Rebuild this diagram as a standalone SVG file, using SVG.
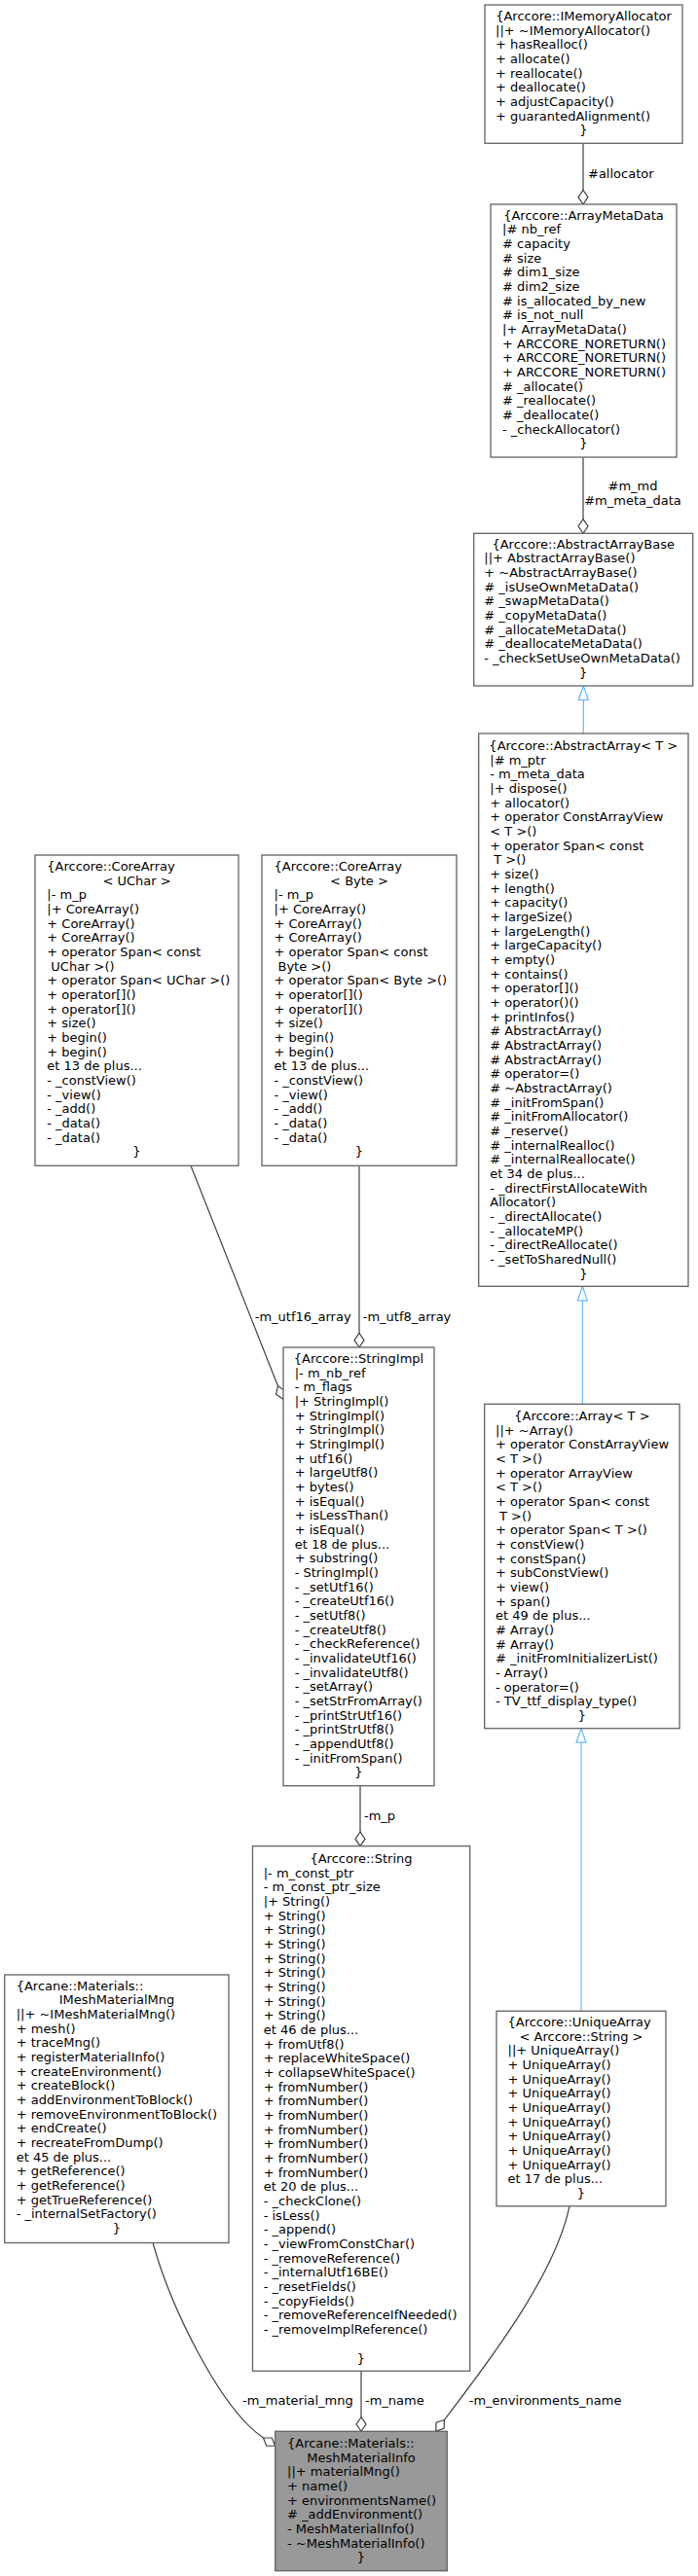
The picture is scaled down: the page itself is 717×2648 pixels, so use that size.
<svg xmlns="http://www.w3.org/2000/svg" width="717" height="2648" viewBox="0 0 717 2648">
<style>
text{font-family:"DejaVu Sans","Liberation Sans",sans-serif;font-size:13px;fill:#000}
.m{text-anchor:middle}
.b{fill:#fff;stroke:#666;stroke-width:1.33}
.r{fill:#999;stroke:#666;stroke-width:1.33}
.e{fill:none;stroke:#404040;stroke-width:1.2}
.i{fill:none;stroke:#63b8ff;stroke-width:1.2}
</style>
<defs>
<marker id="d" markerUnits="userSpaceOnUse" orient="auto" refX="0" refY="0" markerWidth="16" markerHeight="12" style="overflow:visible"><path d="M0,0 L7.3,-5 L14.6,0 L7.3,5 Z" fill="none" stroke="#404040" stroke-width="1.2"/></marker>
<marker id="t" markerUnits="userSpaceOnUse" orient="auto" refX="0" refY="0" markerWidth="16" markerHeight="12" style="overflow:visible"><path d="M0,-5 L14.5,0 L0,5 Z" fill="none" stroke="#63b8ff" stroke-width="1.2"/></marker>
</defs>
<rect width="717" height="2648" fill="#fff"/>
<g id="edges">
<path class="e" d="M599,147.3 V195.4" marker-end="url(#d)"/>
<path class="e" d="M599,470 V533.7" marker-end="url(#d)"/>
<path class="i" d="M599.3,754 V719.5" marker-end="url(#t)"/>
<path class="i" d="M598.3,1443.3 V1336.8" marker-end="url(#t)"/>
<path class="i" d="M597,2067.3 V1791.2" marker-end="url(#t)"/>
<path class="e" d="M196,1198.3 L285.5,1424.7" marker-end="url(#d)"/>
<path class="e" d="M369,1198.3 V1370.4" marker-end="url(#d)"/>
<path class="e" d="M370,1835.7 V1883.1" marker-end="url(#d)"/>
<path class="e" d="M371,2437.3 V2484.7" marker-end="url(#d)"/>
<path class="e" d="M157,2305.5 C175,2370 225,2475 270.5,2506" marker-end="url(#d)"/>
<path class="e" d="M585,2267.8 C570,2340 500,2430 456.5,2487.5" marker-end="url(#d)"/>
<text x="604" y="182.6">#allocator</text>
<text class="m" x="650" y="504.3">#m_md</text>
<text class="m" x="650" y="519.3">#m_meta_data</text>
<text x="261.7" y="1357.6">-m_utf16_array</text>
<text x="372.7" y="1357.6">-m_utf8_array</text>
<text x="374" y="1871">-m_p</text>
<text x="249" y="2471.6">-m_material_mng</text>
<text x="375" y="2471.6">-m_name</text>
<text x="481.7" y="2471.6">-m_environments_name</text>
</g>
<g id="IMemoryAllocator">
<rect class="b" x="498" y="5" width="203" height="142.3"/>
<text class="m" x="599.5" y="21">{Arccore::IMemoryAllocator</text>
<text x="509" y="35.67"><tspan x="509" dy="0">||+ ~IMemoryAllocator()</tspan><tspan x="509" dy="14.67">+ hasRealloc()</tspan><tspan x="509" dy="14.67">+ allocate()</tspan><tspan x="509" dy="14.67">+ reallocate()</tspan><tspan x="509" dy="14.67">+ deallocate()</tspan><tspan x="509" dy="14.67">+ adjustCapacity()</tspan><tspan x="509" dy="14.67">+ guarantedAlignment()</tspan></text>
<text class="m" x="599.5" y="138.4">}</text>
</g>
<g id="ArrayMetaData">
<rect class="b" x="504" y="210" width="191" height="260"/>
<text class="m" x="599.5" y="225.6">{Arccore::ArrayMetaData</text>
<text x="516" y="240.27"><tspan x="516" dy="0">|# nb_ref</tspan><tspan x="516" dy="14.67"># capacity</tspan><tspan x="516" dy="14.67"># size</tspan><tspan x="516" dy="14.67"># dim1_size</tspan><tspan x="516" dy="14.67"># dim2_size</tspan><tspan x="516" dy="14.67"># is_allocated_by_new</tspan><tspan x="516" dy="14.67"># is_not_null</tspan><tspan x="516" dy="14.67">|+ ArrayMetaData()</tspan><tspan x="516" dy="14.67">+ ARCCORE_NORETURN()</tspan><tspan x="516" dy="14.67">+ ARCCORE_NORETURN()</tspan><tspan x="516" dy="14.67">+ ARCCORE_NORETURN()</tspan><tspan x="516" dy="14.67"># _allocate()</tspan><tspan x="516" dy="14.67"># _reallocate()</tspan><tspan x="516" dy="14.67"># _deallocate()</tspan><tspan x="516" dy="14.67">- _checkAllocator()</tspan></text>
<text class="m" x="599.5" y="460.3">}</text>
</g>
<g id="AbstractArrayBase">
<rect class="b" x="486.7" y="548.3" width="225" height="156.7"/>
<text class="m" x="599.2" y="563.6">{Arccore::AbstractArrayBase</text>
<text x="497.3" y="578.27"><tspan x="497.3" dy="0">||+ AbstractArrayBase()</tspan><tspan x="497.3" dy="14.67">+ ~AbstractArrayBase()</tspan><tspan x="497.3" dy="14.67"># _isUseOwnMetaData()</tspan><tspan x="497.3" dy="14.67"># _swapMetaData()</tspan><tspan x="497.3" dy="14.67"># _copyMetaData()</tspan><tspan x="497.3" dy="14.67"># _allocateMetaData()</tspan><tspan x="497.3" dy="14.67"># _deallocateMetaData()</tspan><tspan x="497.3" dy="14.67">- _checkSetUseOwnMetaData()</tspan></text>
<text class="m" x="599.2" y="695.6">}</text>
</g>
<g id="AbstractArray">
<rect class="b" x="491.7" y="754" width="215.3" height="568.3"/>
<text class="m" x="599.3" y="771">{Arccore::AbstractArray&lt; T &gt;</text>
<text x="503.3" y="785.67"><tspan x="503.3" dy="0">|# m_ptr</tspan><tspan x="503.3" dy="14.67">- m_meta_data</tspan><tspan x="503.3" dy="14.67">|+ dispose()</tspan><tspan x="503.3" dy="14.67">+ allocator()</tspan><tspan x="503.3" dy="14.67">+ operator ConstArrayView</tspan><tspan x="503.3" dy="14.67">&lt; T &gt;()</tspan><tspan x="503.3" dy="14.67">+ operator Span&lt; const</tspan><tspan x="507.3" dy="14.67">T &gt;()</tspan><tspan x="503.3" dy="14.67">+ size()</tspan><tspan x="503.3" dy="14.67">+ length()</tspan><tspan x="503.3" dy="14.67">+ capacity()</tspan><tspan x="503.3" dy="14.67">+ largeSize()</tspan><tspan x="503.3" dy="14.67">+ largeLength()</tspan><tspan x="503.3" dy="14.67">+ largeCapacity()</tspan><tspan x="503.3" dy="14.67">+ empty()</tspan><tspan x="503.3" dy="14.67">+ contains()</tspan><tspan x="503.3" dy="14.67">+ operator[]()</tspan><tspan x="503.3" dy="14.67">+ operator()()</tspan><tspan x="503.3" dy="14.67">+ printInfos()</tspan><tspan x="503.3" dy="14.67"># AbstractArray()</tspan><tspan x="503.3" dy="14.67"># AbstractArray()</tspan><tspan x="503.3" dy="14.67"># AbstractArray()</tspan><tspan x="503.3" dy="14.67"># operator=()</tspan><tspan x="503.3" dy="14.67"># ~AbstractArray()</tspan><tspan x="503.3" dy="14.67"># _initFromSpan()</tspan><tspan x="503.3" dy="14.67"># _initFromAllocator()</tspan><tspan x="503.3" dy="14.67"># _reserve()</tspan><tspan x="503.3" dy="14.67"># _internalRealloc()</tspan><tspan x="503.3" dy="14.67"># _internalReallocate()</tspan><tspan x="503.3" dy="14.67">et 34 de plus...</tspan><tspan x="503.3" dy="14.67">- _directFirstAllocateWith</tspan><tspan x="503.3" dy="14.67">Allocator()</tspan><tspan x="503.3" dy="14.67">- _directAllocate()</tspan><tspan x="503.3" dy="14.67">- _allocateMP()</tspan><tspan x="503.3" dy="14.67">- _directReAllocate()</tspan><tspan x="503.3" dy="14.67">- _setToSharedNull()</tspan></text>
<text class="m" x="599.3" y="1313.8">}</text>
</g>
<g id="CoreArrayUChar">
<rect class="b" x="36" y="879" width="209" height="319.3"/>
<text x="48.3" y="895">{Arccore::CoreArray</text>
<text class="m" x="140.5" y="909.67">&lt; UChar &gt;</text>
<text x="48.3" y="924.33"><tspan x="48.3" dy="0">|- m_p</tspan><tspan x="48.3" dy="14.67">|+ CoreArray()</tspan><tspan x="48.3" dy="14.67">+ CoreArray()</tspan><tspan x="48.3" dy="14.67">+ CoreArray()</tspan><tspan x="48.3" dy="14.67">+ operator Span&lt; const</tspan><tspan x="52.3" dy="14.67">UChar &gt;()</tspan><tspan x="48.3" dy="14.67">+ operator Span&lt; UChar &gt;()</tspan><tspan x="48.3" dy="14.67">+ operator[]()</tspan><tspan x="48.3" dy="14.67">+ operator[]()</tspan><tspan x="48.3" dy="14.67">+ size()</tspan><tspan x="48.3" dy="14.67">+ begin()</tspan><tspan x="48.3" dy="14.67">+ begin()</tspan><tspan x="48.3" dy="14.67">et 13 de plus...</tspan><tspan x="48.3" dy="14.67">- _constView()</tspan><tspan x="48.3" dy="14.67">- _view()</tspan><tspan x="48.3" dy="14.67">- _add()</tspan><tspan x="48.3" dy="14.67">- _data()</tspan><tspan x="48.3" dy="14.67">- _data()</tspan></text>
<text class="m" x="140.5" y="1188.4">}</text>
</g>
<g id="CoreArrayByte">
<rect class="b" x="269" y="879" width="200" height="319.3"/>
<text x="281.5" y="895">{Arccore::CoreArray</text>
<text class="m" x="369" y="909.67">&lt; Byte &gt;</text>
<text x="281.5" y="924.33"><tspan x="281.5" dy="0">|- m_p</tspan><tspan x="281.5" dy="14.67">|+ CoreArray()</tspan><tspan x="281.5" dy="14.67">+ CoreArray()</tspan><tspan x="281.5" dy="14.67">+ CoreArray()</tspan><tspan x="281.5" dy="14.67">+ operator Span&lt; const</tspan><tspan x="285.5" dy="14.67">Byte &gt;()</tspan><tspan x="281.5" dy="14.67">+ operator Span&lt; Byte &gt;()</tspan><tspan x="281.5" dy="14.67">+ operator[]()</tspan><tspan x="281.5" dy="14.67">+ operator[]()</tspan><tspan x="281.5" dy="14.67">+ size()</tspan><tspan x="281.5" dy="14.67">+ begin()</tspan><tspan x="281.5" dy="14.67">+ begin()</tspan><tspan x="281.5" dy="14.67">et 13 de plus...</tspan><tspan x="281.5" dy="14.67">- _constView()</tspan><tspan x="281.5" dy="14.67">- _view()</tspan><tspan x="281.5" dy="14.67">- _add()</tspan><tspan x="281.5" dy="14.67">- _data()</tspan><tspan x="281.5" dy="14.67">- _data()</tspan></text>
<text class="m" x="369" y="1188.4">}</text>
</g>
<g id="StringImpl">
<rect class="b" x="291" y="1385" width="155" height="450.7"/>
<text class="m" x="368.5" y="1401">{Arccore::StringImpl</text>
<text x="302.7" y="1415.67"><tspan x="302.7" dy="0">|- m_nb_ref</tspan><tspan x="302.7" dy="14.67">- m_flags</tspan><tspan x="302.7" dy="14.67">|+ StringImpl()</tspan><tspan x="302.7" dy="14.67">+ StringImpl()</tspan><tspan x="302.7" dy="14.67">+ StringImpl()</tspan><tspan x="302.7" dy="14.67">+ StringImpl()</tspan><tspan x="302.7" dy="14.67">+ utf16()</tspan><tspan x="302.7" dy="14.67">+ largeUtf8()</tspan><tspan x="302.7" dy="14.67">+ bytes()</tspan><tspan x="302.7" dy="14.67">+ isEqual()</tspan><tspan x="302.7" dy="14.67">+ isLessThan()</tspan><tspan x="302.7" dy="14.67">+ isEqual()</tspan><tspan x="302.7" dy="14.67">et 18 de plus...</tspan><tspan x="302.7" dy="14.67">+ substring()</tspan><tspan x="302.7" dy="14.67">- StringImpl()</tspan><tspan x="302.7" dy="14.67">- _setUtf16()</tspan><tspan x="302.7" dy="14.67">- _createUtf16()</tspan><tspan x="302.7" dy="14.67">- _setUtf8()</tspan><tspan x="302.7" dy="14.67">- _createUtf8()</tspan><tspan x="302.7" dy="14.67">- _checkReference()</tspan><tspan x="302.7" dy="14.67">- _invalidateUtf16()</tspan><tspan x="302.7" dy="14.67">- _invalidateUtf8()</tspan><tspan x="302.7" dy="14.67">- _setArray()</tspan><tspan x="302.7" dy="14.67">- _setStrFromArray()</tspan><tspan x="302.7" dy="14.67">- _printStrUtf16()</tspan><tspan x="302.7" dy="14.67">- _printStrUtf8()</tspan><tspan x="302.7" dy="14.67">- _appendUtf8()</tspan><tspan x="302.7" dy="14.67">- _initFromSpan()</tspan></text>
<text class="m" x="368.5" y="1826.4">}</text>
</g>
<g id="Array">
<rect class="b" x="497.7" y="1443.3" width="200.3" height="333.4"/>
<text class="m" x="597.9" y="1460">{Arccore::Array&lt; T &gt;</text>
<text x="509" y="1474.67"><tspan x="509" dy="0">||+ ~Array()</tspan><tspan x="509" dy="14.67">+ operator ConstArrayView</tspan><tspan x="509" dy="14.67">&lt; T &gt;()</tspan><tspan x="509" dy="14.67">+ operator ArrayView</tspan><tspan x="509" dy="14.67">&lt; T &gt;()</tspan><tspan x="509" dy="14.67">+ operator Span&lt; const</tspan><tspan x="513" dy="14.67">T &gt;()</tspan><tspan x="509" dy="14.67">+ operator Span&lt; T &gt;()</tspan><tspan x="509" dy="14.67">+ constView()</tspan><tspan x="509" dy="14.67">+ constSpan()</tspan><tspan x="509" dy="14.67">+ subConstView()</tspan><tspan x="509" dy="14.67">+ view()</tspan><tspan x="509" dy="14.67">+ span()</tspan><tspan x="509" dy="14.67">et 49 de plus...</tspan><tspan x="509" dy="14.67"># Array()</tspan><tspan x="509" dy="14.67"># Array()</tspan><tspan x="509" dy="14.67"># _initFromInitializerList()</tspan><tspan x="509" dy="14.67">- Array()</tspan><tspan x="509" dy="14.67">- operator=()</tspan><tspan x="509" dy="14.67">- TV_ttf_display_type()</tspan></text>
<text class="m" x="597.9" y="1768.1">}</text>
</g>
<g id="String">
<rect class="b" x="259.5" y="1897.7" width="223.2" height="539.6"/>
<text class="m" x="371" y="1915">{Arccore::String</text>
<text x="270.7" y="1929.67"><tspan x="270.7" dy="0">|- m_const_ptr</tspan><tspan x="270.7" dy="14.67">- m_const_ptr_size</tspan><tspan x="270.7" dy="14.67">|+ String()</tspan><tspan x="270.7" dy="14.67">+ String()</tspan><tspan x="270.7" dy="14.67">+ String()</tspan><tspan x="270.7" dy="14.67">+ String()</tspan><tspan x="270.7" dy="14.67">+ String()</tspan><tspan x="270.7" dy="14.67">+ String()</tspan><tspan x="270.7" dy="14.67">+ String()</tspan><tspan x="270.7" dy="14.67">+ String()</tspan><tspan x="270.7" dy="14.67">+ String()</tspan><tspan x="270.7" dy="14.67">et 46 de plus...</tspan><tspan x="270.7" dy="14.67">+ fromUtf8()</tspan><tspan x="270.7" dy="14.67">+ replaceWhiteSpace()</tspan><tspan x="270.7" dy="14.67">+ collapseWhiteSpace()</tspan><tspan x="270.7" dy="14.67">+ fromNumber()</tspan><tspan x="270.7" dy="14.67">+ fromNumber()</tspan><tspan x="270.7" dy="14.67">+ fromNumber()</tspan><tspan x="270.7" dy="14.67">+ fromNumber()</tspan><tspan x="270.7" dy="14.67">+ fromNumber()</tspan><tspan x="270.7" dy="14.67">+ fromNumber()</tspan><tspan x="270.7" dy="14.67">+ fromNumber()</tspan><tspan x="270.7" dy="14.67">et 20 de plus...</tspan><tspan x="270.7" dy="14.67">- _checkClone()</tspan><tspan x="270.7" dy="14.67">- isLess()</tspan><tspan x="270.7" dy="14.67">- _append()</tspan><tspan x="270.7" dy="14.67">- _viewFromConstChar()</tspan><tspan x="270.7" dy="14.67">- _removeReference()</tspan><tspan x="270.7" dy="14.67">- _internalUtf16BE()</tspan><tspan x="270.7" dy="14.67">- _resetFields()</tspan><tspan x="270.7" dy="14.67">- _copyFields()</tspan><tspan x="270.7" dy="14.67">- _removeReferenceIfNeeded()</tspan><tspan x="270.7" dy="14.67">- _removeImplReference()</tspan></text>
<text class="m" x="371" y="2428.5">}</text>
</g>
<g id="IMeshMaterialMng">
<rect class="b" x="4.7" y="2030" width="230.3" height="275.5"/>
<text x="16.7" y="2045.6">{Arcane::Materials::</text>
<text class="m" x="120" y="2060.27">IMeshMaterialMng</text>
<text x="16.7" y="2074.93"><tspan x="16.7" dy="0">||+ ~IMeshMaterialMng()</tspan><tspan x="16.7" dy="14.67">+ mesh()</tspan><tspan x="16.7" dy="14.67">+ traceMng()</tspan><tspan x="16.7" dy="14.67">+ registerMaterialInfo()</tspan><tspan x="16.7" dy="14.67">+ createEnvironment()</tspan><tspan x="16.7" dy="14.67">+ createBlock()</tspan><tspan x="16.7" dy="14.67">+ addEnvironmentToBlock()</tspan><tspan x="16.7" dy="14.67">+ removeEnvironmentToBlock()</tspan><tspan x="16.7" dy="14.67">+ endCreate()</tspan><tspan x="16.7" dy="14.67">+ recreateFromDump()</tspan><tspan x="16.7" dy="14.67">et 45 de plus...</tspan><tspan x="16.7" dy="14.67">+ getReference()</tspan><tspan x="16.7" dy="14.67">+ getReference()</tspan><tspan x="16.7" dy="14.67">+ getTrueReference()</tspan><tspan x="16.7" dy="14.67">- _internalSetFactory()</tspan></text>
<text class="m" x="120" y="2295">}</text>
</g>
<g id="UniqueArray">
<rect class="b" x="510" y="2067.3" width="174" height="200.5"/>
<text x="521.5" y="2083.1">{Arccore::UniqueArray</text>
<text class="m" x="597" y="2097.77">&lt; Arccore::String &gt;</text>
<text x="521.5" y="2112.43"><tspan x="521.5" dy="0">||+ UniqueArray()</tspan><tspan x="521.5" dy="14.67">+ UniqueArray()</tspan><tspan x="521.5" dy="14.67">+ UniqueArray()</tspan><tspan x="521.5" dy="14.67">+ UniqueArray()</tspan><tspan x="521.5" dy="14.67">+ UniqueArray()</tspan><tspan x="521.5" dy="14.67">+ UniqueArray()</tspan><tspan x="521.5" dy="14.67">+ UniqueArray()</tspan><tspan x="521.5" dy="14.67">+ UniqueArray()</tspan><tspan x="521.5" dy="14.67">+ UniqueArray()</tspan><tspan x="521.5" dy="14.67">et 17 de plus...</tspan></text>
<text class="m" x="597" y="2259.1">}</text>
</g>
<g id="MeshMaterialInfo">
<rect class="r" x="282.7" y="2499.3" width="176.6" height="143.4"/>
<text x="295" y="2516">{Arcane::Materials::</text>
<text class="m" x="371" y="2530.67">MeshMaterialInfo</text>
<text x="295" y="2545.33"><tspan x="295" dy="0">||+ materialMng()</tspan><tspan x="295" dy="14.67">+ name()</tspan><tspan x="295" dy="14.67">+ environmentsName()</tspan><tspan x="295" dy="14.67"># _addEnvironment()</tspan><tspan x="295" dy="14.67">- MeshMaterialInfo()</tspan><tspan x="295" dy="14.67">- ~MeshMaterialInfo()</tspan></text>
<text class="m" x="371" y="2633.4">}</text>
</g>
</svg>
